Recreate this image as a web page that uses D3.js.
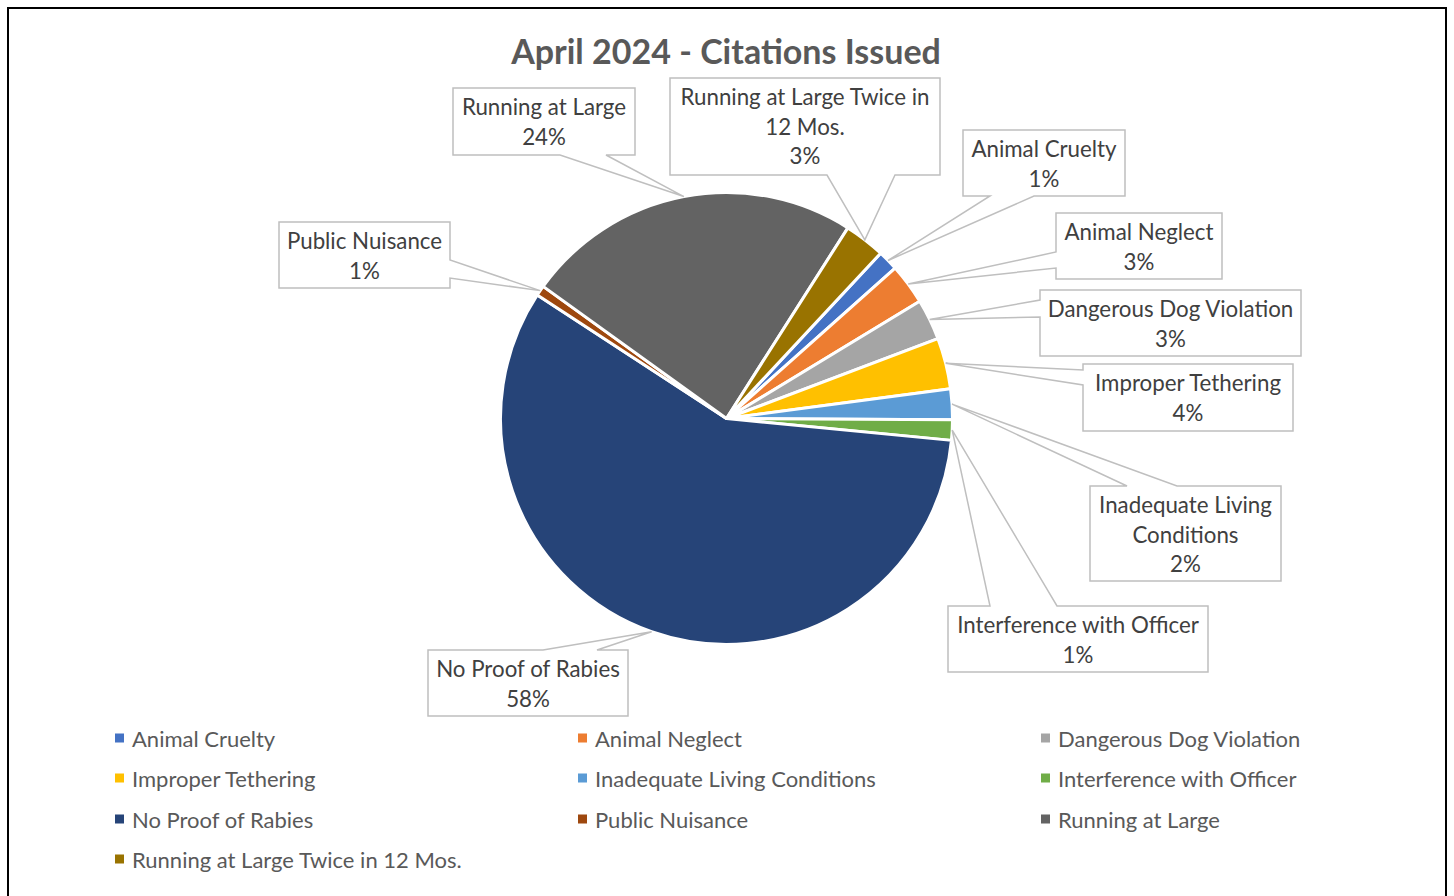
<!DOCTYPE html>
<html>
<head>
<meta charset="utf-8">
<script src="https://cdn.jsdelivr.net/npm/d3@7"></script>
<style>
  html, body { margin: 0; padding: 0; background: #fff; }
  svg { display: block; }
</style>
</head>
<body>
<div id="chart"></div>
<script>
// citations issued, April 2024 (counts)
var categories = ['Animal Cruelty', 'Animal Neglect', 'Dangerous Dog Violation',
  'Improper Tethering', 'Inadequate Living Conditions', 'Interference with Officer',
  'No Proof of Rabies', 'Public Nuisance', 'Running at Large',
  'Running at Large Twice in 12 Mos.'];
var counts = [2, 4, 4, 5, 3, 2, 79, 1, 33, 4];
var sliceColors = ['#4472C4', '#ED7D31', '#A5A5A5', '#FFC000', '#5B9BD5',
  '#70AD47', '#264478', '#9E480E', '#636363', '#997300'];
// how the callout text wraps
var labelLines = [
  ['Animal Cruelty'], ['Animal Neglect'], ['Dangerous Dog Violation'],
  ['Improper Tethering'], ['Inadequate Living', 'Conditions'],
  ['Interference with Officer'], ['No Proof of Rabies'], ['Public Nuisance'],
  ['Running at Large'], ['Running at Large Twice in', '12 Mos.']
];

var width = 1454, height = 896;
var cx = 726.5, cy = 418.5, radius = 226;
var firstSliceAngle = 43 * Math.PI / 180;

// callout boxes: x, y, w, h, edge the pointer leaves from, pointer base
var callouts = [
  {x: 963, y: 130, w: 162, h: 66, side: 'bottom', b: [990, 1034]},
  {x: 1056, y: 213, w: 166, h: 66, side: 'left', b: [252, 268]},
  {x: 1040, y: 290, w: 261, h: 66, side: 'left', b: [300, 317]},
  {x: 1083, y: 364, w: 210, h: 67, side: 'left', b: [370, 385]},
  {x: 1090, y: 486, w: 191, h: 95, side: 'top', b: [1127, 1177]},
  {x: 948, y: 606, w: 260, h: 66, side: 'top', b: [990, 1057]},
  {x: 428, y: 650, w: 200, h: 66, side: 'top', b: [543, 597]},
  {x: 279, y: 222, w: 171, h: 66, side: 'right', b: [260, 278]},
  {x: 453, y: 88, w: 182, h: 67, side: 'bottom', b: [560, 606]},
  {x: 670, y: 78, w: 270, h: 97, side: 'bottom', b: [827, 895]}
];

var fontFamily = 'Lato, "Open Sans", sans-serif';

var svg = d3.select('#chart').append('svg')
  .attr('width', width)
  .attr('height', height);

svg.append('rect')
  .attr('x', 8).attr('y', 8)
  .attr('width', 1438).attr('height', 910)
  .style('fill', '#fff')
  .style('stroke', '#000')
  .style('stroke-width', 2);

svg.append('text')
  .attr('x', 726)
  .attr('y', 64)
  .attr('text-anchor', 'middle')
  .style('font-family', fontFamily)
  .style('font-weight', 'bold')
  .style('font-size', '34px')
  .style('fill', '#595959')
  .text('April 2024 - Citations Issued');

var total = d3.sum(counts);
var pct = d3.format('.0%');

var pie = d3.pie()
  .sort(null)
  .value(function(d) { return d; })
  .startAngle(firstSliceAngle)
  .endAngle(firstSliceAngle + 2 * Math.PI);

var arc = d3.arc()
  .innerRadius(0)
  .outerRadius(radius);

var arcs = pie(counts);

var pieG = svg.append('g')
  .attr('transform', 'translate(' + cx + ',' + cy + ')');

pieG.selectAll('path').data(arcs)
  .enter().append('path')
    .attr('d', arc)
    .style('fill', function(d, i) { return sliceColors[i]; })
    .style('stroke', '#fff')
    .style('stroke-width', 3)
    .style('stroke-linejoin', 'round');

function tipPoint(d) {
  var a = (d.startAngle + d.endAngle) / 2;
  return [cx + radius * Math.sin(a), cy - radius * Math.cos(a)];
}

function calloutPath(c, tip) {
  var x0 = c.x, y0 = c.y, x1 = c.x + c.w, y1 = c.y + c.h;
  var p = d3.path();
  p.moveTo(x0, y0);
  if (c.side == 'top') {
    p.lineTo(c.b[0], y0); p.lineTo(tip[0], tip[1]); p.lineTo(c.b[1], y0);
  }
  p.lineTo(x1, y0);
  if (c.side == 'right') {
    p.lineTo(x1, c.b[0]); p.lineTo(tip[0], tip[1]); p.lineTo(x1, c.b[1]);
  }
  p.lineTo(x1, y1);
  if (c.side == 'bottom') {
    p.lineTo(c.b[1], y1); p.lineTo(tip[0], tip[1]); p.lineTo(c.b[0], y1);
  }
  p.lineTo(x0, y1);
  if (c.side == 'left') {
    p.lineTo(x0, c.b[1]); p.lineTo(tip[0], tip[1]); p.lineTo(x0, c.b[0]);
  }
  p.closePath();
  return p.toString();
}

var labels = svg.append('g').selectAll('g').data(arcs)
  .enter().append('g');

labels.append('path')
  .attr('d', function(d, i) { return calloutPath(callouts[i], tipPoint(d)); })
  .style('fill', '#fff')
  .style('stroke', '#BFBFBF')
  .style('stroke-width', 1.5);

labels.each(function(d, i) {
  var c = callouts[i];
  var lines = labelLines[i].concat([pct(counts[i] / total)]);
  var t = d3.select(this).append('text')
    .attr('text-anchor', 'middle')
    .style('font-family', fontFamily)
    .style('font-size', '22.3px')
    .style('fill', '#404040');
  lines.forEach(function(s, k) {
    t.append('tspan')
      .attr('x', c.x + c.w / 2)
      .attr('y', c.y + 18.5 + k * 29.7)
      .attr('dominant-baseline', 'central')
      .text(s);
  });
});

// legend, three columns
var legendCols = [115, 578, 1041];
var legendRows = [738, 778, 819, 859];

var legend = svg.append('g').selectAll('g').data(categories)
  .enter().append('g')
    .attr('transform', function(d, i) {
      return 'translate(' + legendCols[i % 3] + ',' + legendRows[Math.floor(i / 3)] + ')';
    });

legend.append('rect')
  .attr('x', 0).attr('y', -4.5)
  .attr('width', 9).attr('height', 9)
  .style('fill', function(d, i) { return sliceColors[i]; });

legend.append('text')
  .attr('x', 17)
  .attr('y', 0)
  .attr('dominant-baseline', 'central')
  .style('font-family', fontFamily)
  .style('font-size', '22px')
  .style('fill', '#595959')
  .text(function(d) { return d; });
</script>
</body>
</html>
